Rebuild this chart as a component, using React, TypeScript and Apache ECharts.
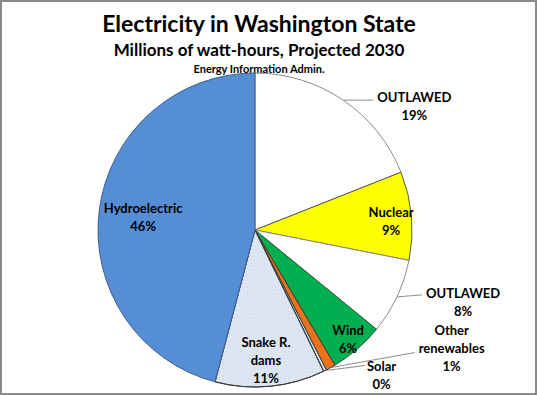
import React, { useEffect, useRef } from "react";
import * as echarts from "echarts";

const categories = ["OUTLAWED", "Nuclear", "OUTLAWED", "Wind", "Other renewables", "Solar", "Snake R. dams", "Hydroelectric"];
const labelTexts = ["OUTLAWED", "Nuclear", "OUTLAWED", "Wind", "Other\nrenewables", "Solar", "Snake R.\ndams", "Hydroelectric"];
const values = [19.0, 9.1, 7.8, 5.6, 1.0, 0.3, 11.3, 45.9];
const titleText = "Electricity in Washington State";
const subtitleText = "Millions of watt-hours, Projected 2030";
const sourceText = "Energy Information Admin.";

const FONT = "Lato, 'Open Sans', sans-serif";

export default function App() {
  const ref = useRef<HTMLDivElement>(null);
  useEffect(() => {
    if (!ref.current) return;
    const chart = echarts.init(ref.current, undefined, { renderer: "svg" });
    const colors = ["#FFFFFF", "#FFFF00", "#FFFFFF", "#00B050", "#E9721A", "#DCE6F2", "#E2EAF4", "#558ED5"];
    const borders = ["#8C8C8C", "#555555", "#8C8C8C", "#3A5A3A", "#3A3A3A", "#3A3A3A", "#3A3A3A", "#3F5F8F"];
    const outside = [true, false, true, false, true, true, false, false];
    // inside label offsets from the default mid-radius position
    const shift: Record<number, [number, number]> = {
      1: [55, -2],
      3: [40, 47],
      6: [3, 49],
      7: [-31, -3],
    };
    // outside labels: [lineEndDx, lineEndDy, labelGap, labelTopDy] relative to the arc anchor point
    const outer: Record<number, [number, number, number, number]> = {
      0: [30, 0, 4, -12],
      2: [25, -2, 4, -13],
      4: [84, -15, 4, -47],
      5: [40, -5, 2, -14],
    };
    const data = values.map((v, i) => ({
      name: categories[i],
      value: v,
      itemStyle: {
        color: colors[i],
        borderColor: borders[i],
        borderWidth: 1,
        ...(i === 6
          ? {
              decal: {
                symbol: "rect",
                symbolSize: 1,
                dashArrayX: [1, 1],
                dashArrayY: [1, 1],
                rotation: Math.PI / 4,
                color: "rgba(150,170,200,0.35)",
              },
            }
          : {}),
      },
      label: {
        position: outside[i] ? "outside" : "inside",
      },
      labelLine: { show: outside[i] },
    }));
    const titleFont = (size: number) => `bold ${size}px ${FONT}`;
    chart.setOption({
      animation: false,
      backgroundColor: "#FFFFFF",
      graphic: [
        {
          type: "text",
          x: 259,
          y: 11,
          style: { text: titleText, font: titleFont(23), fill: "#000", textAlign: "center", textVerticalAlign: "top" },
        },
        {
          type: "text",
          x: 259,
          y: 41,
          style: { text: subtitleText, font: titleFont(17), fill: "#000", textAlign: "center", textVerticalAlign: "top" },
        },
        {
          type: "text",
          x: 259,
          y: 63,
          style: { text: sourceText, font: titleFont(11), fill: "#000", textAlign: "center", textVerticalAlign: "top" },
        },
        {
          type: "rect",
          shape: { x: 1, y: 1, width: 535, height: 393 },
          style: { fill: "none", stroke: "#8A8A8A", lineWidth: 2 },
          z: 100,
        },
      ],
      series: [
        {
          type: "pie",
          center: [255, 230],
          radius: [0, 157],
          startAngle: 90,
          clockwise: true,
          avoidLabelOverlap: false,
          data,
          label: {
            fontFamily: FONT,
            fontWeight: "bold",
            fontSize: 13,
            color: "#000",
            lineHeight: 18,
            formatter: (p: any) => `${labelTexts[p.dataIndex]}\n${Math.round(p.percent)}%`,
          },
          labelLine: {
            length: 4,
            length2: 28,
            lineStyle: { color: "#8C8C8C", width: 1 },
          },
          labelLayout: (p: any) => {
            const s = shift[p.dataIndex];
            if (s) return { dx: s[0], dy: s[1] };
            const o = outer[p.dataIndex];
            if (o && p.labelLinePoints && p.labelLinePoints.length) {
              const p0 = p.labelLinePoints[0];
              const end = [p0[0] + o[0], p0[1] + o[1]];
              return {
                x: end[0] + o[2] + p.labelRect.width / 2,
                y: p0[1] + o[3],
                align: "center",
                verticalAlign: "top",
                labelLinePoints: [
                  [p0[0], p0[1]],
                  [(p0[0] + end[0]) / 2, (p0[1] + end[1]) / 2],
                  end,
                ],
              };
            }
            return {};
          },
          emphasis: { disabled: true },
        },
      ],
    });
    return () => chart.dispose();
  }, []);
  return (
    <div
      ref={ref}
      style={{ position: "absolute", left: 0, top: 0, width: 537, height: 395 }}
    />
  );
}
